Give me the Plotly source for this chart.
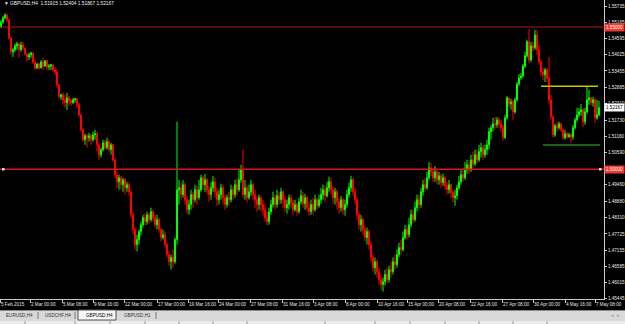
import plotly.graph_objects as go

# ---------------- data (GBPUSD H4) ----------------
bar_open = [
 1.5500,1.5518,1.5532,1.5542,1.5525,1.5462,1.5413,1.5420,1.5434,1.5441,
 1.5420,1.5437,1.5427,1.5406,1.5395,1.5402,1.5409,1.5377,1.5356,1.5370,
 1.5356,1.5377,1.5363,1.5381,1.5360,1.5363,1.5367,1.5349,1.5342,1.5297,
 1.5255,1.5262,1.5244,1.5234,1.5251,1.5241,1.5234,1.5244,1.5248,1.5227,
 1.5191,1.5139,1.5104,1.5118,1.5111,1.5118,1.5104,1.5121,1.5125,1.5086,
 1.5051,1.5069,1.5093,1.5076,1.5097,1.5069,1.5086,1.5033,1.4981,1.4956,
 1.4970,1.4946,1.4963,1.4935,1.4946,1.4921,1.4840,1.4788,1.4735,1.4753,
 1.4781,1.4805,1.4830,1.4816,1.4840,1.4823,1.4851,1.4830,1.4805,1.4823,
 1.4788,1.4760,1.4770,1.4735,1.4700,1.4675,1.4690,1.4675,1.4753,1.4928,
 1.4935,1.4911,1.4946,1.4893,1.4858,1.4876,1.4911,1.4893,1.4928,1.4900,
 1.4928,1.4970,1.4946,1.4963,1.4928,1.4911,1.4935,1.4956,1.4921,1.4893,
 1.4911,1.4935,1.4900,1.4876,1.4900,1.4893,1.4928,1.4911,1.4946,1.4928,
 1.4963,1.4998,1.4911,1.4935,1.4900,1.4921,1.4946,1.4911,1.4893,1.4876,
 1.4900,1.4876,1.4858,1.4830,1.4816,1.4851,1.4876,1.4900,1.4876,1.4907,
 1.4893,1.4921,1.4893,1.4865,1.4876,1.4900,1.4883,1.4858,1.4876,1.4851,
 1.4886,1.4907,1.4879,1.4900,1.4865,1.4851,1.4876,1.4858,1.4893,1.4872,
 1.4893,1.4911,1.4928,1.4907,1.4935,1.4956,1.4928,1.4900,1.4921,1.4886,
 1.4865,1.4893,1.4858,1.4876,1.4911,1.4935,1.4963,1.4921,1.4893,1.4840,
 1.4805,1.4823,1.4788,1.4760,1.4781,1.4735,1.4690,1.4654,1.4675,1.4640,
 1.4612,1.4595,1.4605,1.4630,1.4612,1.4647,1.4640,1.4675,1.4665,1.4700,
 1.4725,1.4718,1.4760,1.4788,1.4770,1.4805,1.4840,1.4823,1.4865,1.4893,
 1.4876,1.4921,1.4946,1.4935,1.4970,1.5005,1.4991,1.4970,1.4991,1.4963,
 1.4977,1.4953,1.4970,1.4942,1.4928,1.4946,1.4918,1.4900,1.4907,1.4935,
 1.4956,1.4981,1.4970,1.4998,1.5016,1.4998,1.5033,1.5019,1.5051,1.5033,
 1.5062,1.5076,1.5051,1.5069,1.5086,1.5132,1.5146,1.5160,1.5156,1.5174,
 1.5160,1.5146,1.5111,1.5181,1.5251,1.5230,1.5237,1.5202,1.5244,1.5300,
 1.5321,1.5328,1.5363,1.5399,1.5448,1.5384,1.5434,1.5427,1.5472,1.5420,
 1.5377,1.5342,1.5332,1.5349,1.5321,1.5244,1.5184,1.5121,1.5153,1.5146,
 1.5160,1.5139,1.5111,1.5125,1.5114,1.5121,1.5114,1.5146,1.5174,1.5191,
 1.5202,1.5209,1.5167,1.5202,1.5244,1.5251,1.5234,1.5244,1.5181,1.51915]

bar_high = [
 1.5525,1.5539,1.5549,1.5546,1.5528,1.5465,1.5427,1.5441,1.5448,1.5444,
 1.5448,1.5448,1.5427,1.5409,1.5409,1.5413,1.5409,1.5384,1.5374,1.5374,
 1.5384,1.5392,1.5384,1.5384,1.5370,1.5370,1.5367,1.5360,1.5349,1.5300,
 1.5265,1.5269,1.5262,1.5269,1.5258,1.5248,1.5251,1.5251,1.5248,1.5234,
 1.5195,1.5146,1.5125,1.5125,1.5128,1.5125,1.5132,1.5139,1.5132,1.5093,
 1.5076,1.5104,1.5104,1.5111,1.5104,1.5093,1.5090,1.5041,1.4991,1.4981,
 1.4977,1.4970,1.4970,1.4956,1.4953,1.4928,1.4851,1.4795,1.4770,1.4788,
 1.4816,1.4840,1.4844,1.4851,1.4848,1.4865,1.4858,1.4840,1.4840,1.4830,
 1.4795,1.4788,1.4781,1.4742,1.4711,1.4700,1.4718,1.4760,1.5167,1.4963,
 1.4956,1.4963,1.4953,1.4907,1.4893,1.4928,1.4921,1.4946,1.4942,1.4963,
 1.4981,1.4977,1.4984,1.4970,1.4942,1.4956,1.4977,1.4970,1.4935,1.4928,
 1.4949,1.4946,1.4911,1.4911,1.4921,1.4946,1.4942,1.4963,1.4970,1.4998,
 1.5016,1.5069,1.4963,1.4946,1.4946,1.4963,1.4953,1.4928,1.4907,1.4911,
 1.4907,1.4893,1.4876,1.4851,1.4865,1.4893,1.4921,1.4911,1.4928,1.4921,
 1.4935,1.4928,1.4907,1.4893,1.4911,1.4911,1.4893,1.4893,1.4883,1.4900,
 1.4928,1.4921,1.4914,1.4907,1.4886,1.4893,1.4900,1.4911,1.4900,1.4911,
 1.4935,1.4946,1.4942,1.4956,1.4974,1.4970,1.4942,1.4935,1.4928,1.4900,
 1.4907,1.4900,1.4893,1.4928,1.4953,1.4977,1.4970,1.4935,1.4900,1.4851,
 1.4840,1.4830,1.4802,1.4795,1.4788,1.4746,1.4700,1.4690,1.4682,1.4654,
 1.4630,1.4619,1.4647,1.4654,1.4661,1.4675,1.4690,1.4700,1.4718,1.4742,
 1.4753,1.4781,1.4805,1.4802,1.4830,1.4858,1.4858,1.4886,1.4911,1.4911,
 1.4935,1.4963,1.4970,1.4991,1.5026,1.5023,1.5005,1.5012,1.4998,1.4991,
 1.4984,1.4984,1.4977,1.4956,1.4963,1.4949,1.4928,1.4928,1.4946,1.4977,
 1.4998,1.5005,1.5026,1.5033,1.5033,1.5051,1.5062,1.5069,1.5069,1.5086,
 1.5093,1.5086,1.5086,1.5104,1.5146,1.5156,1.5181,1.5184,1.5184,1.5181,
 1.5174,1.5156,1.5191,1.5258,1.5251,1.5248,1.5244,1.5251,1.5307,1.5335,
 1.5339,1.5370,1.5413,1.5455,1.5493,1.5448,1.5448,1.5490,1.5490,1.5437,
 1.5384,1.5356,1.5356,1.5356,1.5395,1.5262,1.5191,1.5160,1.5167,1.5167,
 1.5160,1.5146,1.5139,1.5132,1.5128,1.5128,1.5156,1.5181,1.5216,1.5216,
 1.5230,1.5216,1.5216,1.5290,1.5279,1.5255,1.5255,1.5251,1.5244,1.52404]

bar_low = [
 1.5497,1.5511,1.5528,1.5518,1.5455,1.5402,1.5395,1.5413,1.5420,1.5392,
 1.5413,1.5420,1.5399,1.5377,1.5384,1.5392,1.5370,1.5349,1.5353,1.5349,
 1.5356,1.5349,1.5360,1.5349,1.5349,1.5349,1.5342,1.5332,1.5286,1.5248,
 1.5244,1.5227,1.5216,1.5209,1.5223,1.5223,1.5230,1.5234,1.5216,1.5184,
 1.5132,1.5097,1.5086,1.5076,1.5097,1.5086,1.5097,1.5104,1.5062,1.5033,
 1.5041,1.5062,1.5069,1.5069,1.5062,1.5051,1.5026,1.4970,1.4935,1.4928,
 1.4928,1.4921,1.4911,1.4921,1.4907,1.4830,1.4770,1.4718,1.4711,1.4735,
 1.4767,1.4795,1.4802,1.4805,1.4809,1.4816,1.4816,1.4795,1.4788,1.4777,
 1.4746,1.4753,1.4725,1.4690,1.4661,1.4647,1.4654,1.4668,1.4735,1.4876,
 1.4893,1.4900,1.4876,1.4844,1.4840,1.4858,1.4865,1.4883,1.4876,1.4893,
 1.4921,1.4928,1.4921,1.4911,1.4886,1.4893,1.4921,1.4900,1.4872,1.4876,
 1.4893,1.4876,1.4858,1.4865,1.4872,1.4883,1.4893,1.4900,1.4907,1.4921,
 1.4953,1.4900,1.4893,1.4883,1.4893,1.4907,1.4893,1.4865,1.4851,1.4858,
 1.4851,1.4837,1.4816,1.4802,1.4805,1.4840,1.4865,1.4858,1.4865,1.4876,
 1.4879,1.4865,1.4851,1.4844,1.4858,1.4865,1.4840,1.4851,1.4837,1.4844,
 1.4876,1.4865,1.4858,1.4851,1.4837,1.4840,1.4840,1.4851,1.4858,1.4865,
 1.4879,1.4893,1.4886,1.4900,1.4921,1.4911,1.4879,1.4876,1.4858,1.4844,
 1.4851,1.4840,1.4837,1.4865,1.4900,1.4921,1.4907,1.4876,1.4823,1.4788,
 1.4781,1.4767,1.4746,1.4735,1.4718,1.4675,1.4640,1.4630,1.4619,1.4595,
 1.4577,1.4570,1.4591,1.4598,1.4602,1.4619,1.4630,1.4647,1.4654,1.4690,
 1.4700,1.4711,1.4753,1.4753,1.4760,1.4795,1.4809,1.4816,1.4851,1.4858,
 1.4865,1.4907,1.4921,1.4928,1.4963,1.4977,1.4956,1.4956,1.4946,1.4946,
 1.4935,1.4942,1.4928,1.4911,1.4914,1.4900,1.4883,1.4872,1.4893,1.4928,
 1.4946,1.4956,1.4963,1.4984,1.4984,1.4991,1.5005,1.5012,1.5019,1.5026,
 1.5041,1.5033,1.5041,1.5051,1.5069,1.5104,1.5132,1.5139,1.5146,1.5146,
 1.5132,1.5100,1.5107,1.5174,1.5216,1.5209,1.5174,1.5195,1.5237,1.5293,
 1.5314,1.5321,1.5356,1.5392,1.5374,1.5377,1.5413,1.5420,1.5402,1.5367,
 1.5328,1.5314,1.5307,1.5307,1.5230,1.5174,1.5111,1.5114,1.5132,1.5139,
 1.5132,1.5104,1.5104,1.5107,1.5111,1.5093,1.5104,1.5139,1.5167,1.5181,
 1.5188,1.5149,1.5156,1.5195,1.5227,1.5223,1.5220,1.5163,1.5174,1.51867]

bar_close = [
 1.5518,1.5532,1.5542,1.5525,1.5462,1.5413,1.5420,1.5434,1.5441,1.5420,
 1.5437,1.5427,1.5406,1.5395,1.5402,1.5409,1.5377,1.5356,1.5370,1.5356,
 1.5377,1.5363,1.5381,1.5360,1.5363,1.5367,1.5349,1.5342,1.5297,1.5255,
 1.5262,1.5244,1.5234,1.5251,1.5241,1.5234,1.5244,1.5248,1.5227,1.5191,
 1.5139,1.5104,1.5118,1.5111,1.5118,1.5104,1.5121,1.5125,1.5086,1.5051,
 1.5069,1.5093,1.5076,1.5097,1.5069,1.5086,1.5033,1.4981,1.4956,1.4970,
 1.4946,1.4963,1.4935,1.4946,1.4921,1.4840,1.4788,1.4735,1.4753,1.4781,
 1.4805,1.4830,1.4816,1.4840,1.4823,1.4851,1.4830,1.4805,1.4823,1.4788,
 1.4760,1.4770,1.4735,1.4700,1.4675,1.4690,1.4675,1.4753,1.4928,1.4935,
 1.4911,1.4946,1.4893,1.4858,1.4876,1.4911,1.4893,1.4928,1.4900,1.4928,
 1.4970,1.4946,1.4963,1.4928,1.4911,1.4935,1.4956,1.4921,1.4893,1.4911,
 1.4935,1.4900,1.4876,1.4900,1.4893,1.4928,1.4911,1.4946,1.4928,1.4963,
 1.4998,1.4911,1.4935,1.4900,1.4921,1.4946,1.4911,1.4893,1.4876,1.4900,
 1.4876,1.4858,1.4830,1.4816,1.4851,1.4876,1.4900,1.4876,1.4907,1.4893,
 1.4921,1.4893,1.4865,1.4876,1.4900,1.4883,1.4858,1.4876,1.4851,1.4886,
 1.4907,1.4879,1.4900,1.4865,1.4851,1.4876,1.4858,1.4893,1.4872,1.4893,
 1.4911,1.4928,1.4907,1.4935,1.4956,1.4928,1.4900,1.4921,1.4886,1.4865,
 1.4893,1.4858,1.4876,1.4911,1.4935,1.4963,1.4921,1.4893,1.4840,1.4805,
 1.4823,1.4788,1.4760,1.4781,1.4735,1.4690,1.4654,1.4675,1.4640,1.4612,
 1.4595,1.4605,1.4630,1.4612,1.4647,1.4640,1.4675,1.4665,1.4700,1.4725,
 1.4718,1.4760,1.4788,1.4770,1.4805,1.4840,1.4823,1.4865,1.4893,1.4876,
 1.4921,1.4946,1.4935,1.4970,1.5005,1.4991,1.4970,1.4991,1.4963,1.4977,
 1.4953,1.4970,1.4942,1.4928,1.4946,1.4918,1.4900,1.4907,1.4935,1.4956,
 1.4981,1.4970,1.4998,1.5016,1.4998,1.5033,1.5019,1.5051,1.5033,1.5062,
 1.5076,1.5051,1.5069,1.5086,1.5132,1.5146,1.5160,1.5156,1.5174,1.5160,
 1.5146,1.5111,1.5181,1.5251,1.5230,1.5237,1.5202,1.5244,1.5300,1.5321,
 1.5328,1.5363,1.5399,1.5448,1.5384,1.5434,1.5427,1.5472,1.5420,1.5377,
 1.5342,1.5332,1.5349,1.5321,1.5244,1.5184,1.5121,1.5153,1.5146,1.5160,
 1.5139,1.5111,1.5125,1.5114,1.5121,1.5114,1.5146,1.5174,1.5191,1.5202,
 1.5209,1.5167,1.5202,1.5244,1.5251,1.5234,1.5244,1.5181,1.5192,1.52167]

bar_index = list(range(len(bar_close)))

time_labels = ["5 Feb 2015", "2 Mar 00:00", "5 Mar 08:00", "9 Mar 16:00", "12 Mar 00:00",
               "17 Mar 00:00", "19 Mar 16:00", "24 Mar 00:00", "27 Mar 08:00", "31 Mar 16:00",
               "3 Apr 08:00", "8 Apr 00:00", "10 Apr 16:00", "15 Apr 00:00", "20 Apr 08:00",
               "22 Apr 16:00", "27 Apr 08:00", "30 Apr 00:00", "4 May 16:00", "7 May 08:00"]
time_label_bars = [-0.5, 14.5, 30.5, 46, 61.5, 78, 93.5, 108.5, 124.5, 140.5,
                   156, 172, 188, 203, 218.5, 234.5, 250.5, 266, 282, 297]

price_ticks = [1.55735, 1.55165, 1.54595, 1.54025, 1.53455, 1.52885, 1.52310, 1.51730,
               1.51160, 1.50590, 1.49460, 1.48880, 1.48310, 1.47725, 1.47155, 1.46585,
               1.46015, 1.45445]
price_tick_text = ["%.5f" % v for v in price_ticks]

level_top = 1.55000
level_mid = 1.50000
level_yellow = 1.5292
level_yellow_bars = [270, 298.5]
level_green = 1.5085
level_green_bars = [271, 299.5]
last_price = 1.52167
header_text = "\u25bc GBPUSD,H4  1.51915 1.52404 1.51867 1.52167"
tab_names = ["EURUSD,H4", "USDCHF,H4", "GBPUSD,H4", "GBPUSD,H1"]
active_tab = 2

# ---------------- figure ----------------
W, H = 625, 324
PW, PH = 604, 299          # plot area size in px
FONT = "Liberation Sans"
FS = 4.6                   # tiny terminal font

def px(x):   # pixel -> paper x
    return x / PW

def py(y):   # pixel -> paper y
    return (PH - y) / PH

fig = go.Figure()
fig.add_trace(go.Candlestick(
    x=bar_index, open=bar_open, high=bar_high, low=bar_low, close=bar_close,
    increasing=dict(line=dict(color="#00ff00", width=1), fillcolor="#00ff00"),
    decreasing=dict(line=dict(color="#ff0000", width=1), fillcolor="#ff0000"),
    whiskerwidth=0, showlegend=False, hoverinfo="skip"))

shapes = []
# horizontal levels
shapes.append(dict(type="line", xref="paper", yref="y", x0=0, x1=1, y0=level_top, y1=level_top,
                   line=dict(color="#a81c1c", width=1)))
shapes.append(dict(type="line", xref="paper", yref="y", x0=0, x1=1, y0=level_mid, y1=level_mid,
                   line=dict(color="#d81818", width=1.5)))
shapes.append(dict(type="line", xref="x", yref="y", x0=level_yellow_bars[0], x1=level_yellow_bars[1],
                   y0=level_yellow, y1=level_yellow, line=dict(color="#c8c800", width=1.5)))
shapes.append(dict(type="line", xref="x", yref="y", x0=level_green_bars[0], x1=level_green_bars[1],
                   y0=level_green, y1=level_green, line=dict(color="#1a8a1a", width=1.5)))
# selected-line anchor dots
for xa in (2, 599):
    shapes.append(dict(type="rect", xref="paper", yref="y", x0=px(xa), x1=px(xa + 2.5),
                       y0=level_mid - 0.0004, y1=level_mid + 0.0004,
                       fillcolor="#ffffff", line=dict(width=0)))
# tab bar
shapes.append(dict(type="rect", xref="paper", yref="paper", x0=0, x1=px(W), y0=py(310), y1=py(H),
                   fillcolor="#d9d9d9", line=dict(width=0), layer="above"))
shapes.append(dict(type="line", xref="paper", yref="paper", x0=0, x1=px(W), y0=py(310.5), y1=py(310.5),
                   line=dict(color="#8a8a8a", width=1), layer="above"))
# active tab
shapes.append(dict(type="rect", xref="paper", yref="paper", x0=px(78), x1=px(116), y0=py(310), y1=py(320),
                   fillcolor="#f7f7f7", line=dict(color="#555555", width=1), layer="above"))
# tab separators
for xs in (38, 75, 156):
    shapes.append(dict(type="line", xref="paper", yref="paper", x0=px(xs), x1=px(xs), y0=py(312), y1=py(319),
                       line=dict(color="#777777", width=1), layer="above"))
# status bar strip
shapes.append(dict(type="rect", xref="paper", yref="paper", x0=0, x1=px(W), y0=py(321), y1=py(H),
                   fillcolor="#ececec", line=dict(width=0), layer="above"))
for xs in (25, 75, 110, 145, 179, 213, 247, 325, 375, 410, 445, 479, 513, 547):
    shapes.append(dict(type="line", xref="paper", yref="paper", x0=px(xs), x1=px(xs), y0=py(321), y1=py(H),
                       line=dict(color="#9a9a9a", width=1), layer="above"))

annotations = []
# header
annotations.append(dict(xref="paper", yref="paper", x=px(2), y=1, xanchor="left", yanchor="top",
                        yshift=1, text=header_text, showarrow=False,
                        font=dict(family=FONT, size=4.8, color="#f0f0f0")))
# time labels
for lab, b in zip(time_labels, time_label_bars):
    annotations.append(dict(xref="x", yref="paper", x=b, y=0, xanchor="left", yanchor="top",
                            xshift=-1, yshift=-1, text=lab, showarrow=False,
                            font=dict(family=FONT, size=FS, color="#e4e4e4")))
# price boxes
for lvl, txt, bg, fg in ((level_top, "%.5f" % level_top, "#f03a30", "#ffffff"),
                         (level_mid, "%.5f" % level_mid, "#f03a30", "#ffffff"),
                         (last_price, "%.5f" % last_price, "#ffffff", "#000000")):
    annotations.append(dict(xref="paper", yref="y", x=1, y=lvl, xanchor="left", yanchor="middle",
                            xshift=0, text=txt, showarrow=False, bgcolor=bg, borderpad=1,
                            font=dict(family=FONT, size=FS, color=fg)))
# tabs
tab_x = [4, 43, 84, 122]
for i, (name, tx) in enumerate(zip(tab_names, tab_x)):
    annotations.append(dict(xref="paper", yref="paper", x=px(tx), y=py(315.5), xanchor="left", yanchor="middle",
                            text=name, showarrow=False,
                            font=dict(family=FONT, size=FS, color="#000000" if i == active_tab else "#333333")))
annotations.append(dict(xref="paper", yref="paper", x=px(609), y=py(315.5), xanchor="left", yanchor="middle",
                        text="\u25c2  \u25b8", showarrow=False, font=dict(family=FONT, size=FS, color="#9a9a9a")))

fig.update_layout(
    width=W, height=H,
    margin=dict(l=0, r=W - PW, t=0, b=H - PH, autoexpand=False),
    paper_bgcolor="#000000", plot_bgcolor="#000000",
    showlegend=False,
    shapes=shapes, annotations=annotations,
    xaxis=dict(range=[-0.5, 301.5], showgrid=False, zeroline=False, showline=True,
               linecolor="#c8c8c8", linewidth=1, ticks="outside", ticklen=3, tickcolor="#c8c8c8",
               tickvals=time_label_bars, showticklabels=False,
               rangeslider=dict(visible=False), fixedrange=True),
    yaxis=dict(range=[1.4544, 1.5595], side="right", showgrid=False, zeroline=False,
               showline=True, linecolor="#c8c8c8", linewidth=1,
               ticks="outside", ticklen=2, tickcolor="#c8c8c8",
               tickvals=price_ticks, ticktext=price_tick_text,
               tickfont=dict(family=FONT, size=FS, color="#e8e8e8"), fixedrange=True),
)

fig.write_html("out.html")
